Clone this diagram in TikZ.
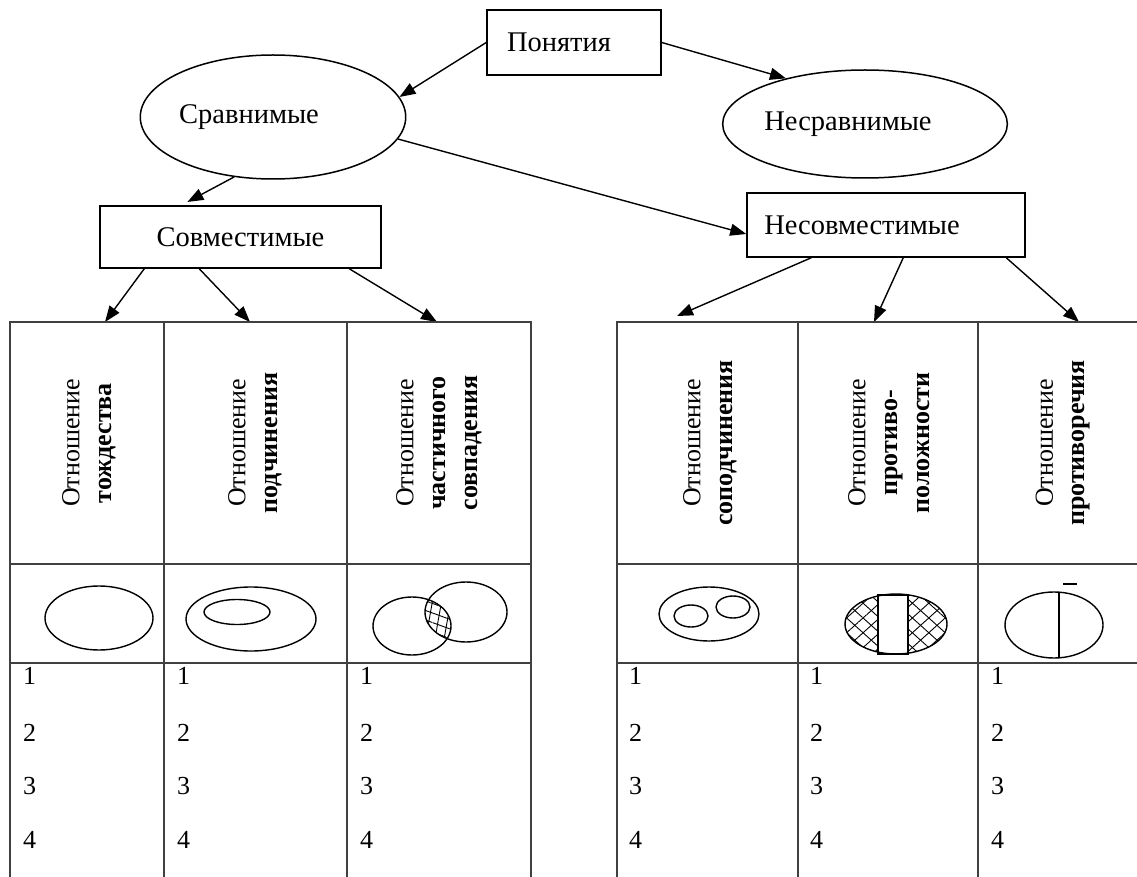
\documentclass[tikz,border=0pt]{standalone}
\usepackage{fontspec}
\setmainfont{Liberation Serif}
\usetikzlibrary{shapes.geometric,arrows.meta,calc,patterns.meta}
\begin{document}
\begin{tikzpicture}[x=1pt,y=-1pt,
  lbl/.style={font=\fontsize{26}{32}\selectfont},
  big/.style={font=\fontsize{28.5}{34}\selectfont},
  box/.style={draw, line width=1.5pt, rectangle, inner sep=0pt, big},
  oval/.style={draw, line width=1.5pt, ellipse, inner sep=0pt, big},
  arr/.style={line width=1.4pt, -{Triangle[length=16pt,width=12pt]}},
  tbl/.style={line width=1.8pt, black!75},
  vtext/.style={lbl, rotate=90, align=center, inner sep=0pt},
  num/.style={lbl, anchor=west, inner sep=0pt},
  fig/.style={line width=1.4pt},
  hatchA/.style={pattern={Lines[angle=42,distance=11pt,line width=0.9pt]}},
  hatchB/.style={pattern={Lines[angle=-42,distance=11pt,line width=0.9pt]}},
  gridA/.style={pattern={Lines[angle=-20,distance=9pt,line width=0.9pt]}},
  gridB/.style={pattern={Lines[angle=80,distance=9pt,line width=0.9pt]}},
]
\useasboundingbox (0,0) rectangle (1137,877);
\fill[white] (0,0) rectangle (1137,877);
\clip (0,0) rectangle (1137,877);

% top nodes
\node[box, minimum width=174, minimum height=65] (pon) at (574,42.5) {Понятия\hspace*{30pt}};
\node[oval, minimum width=258, minimum height=124] (sr) at (273,117) {Сравнимые\hspace*{48pt}};
\node[oval, minimum width=280, minimum height=108] (nesr) at (865,124) {Несравнимые\hspace*{34pt}};
\node[box, minimum width=281, minimum height=62] (sov) at (240.5,237) {Совместимые};
\node[box, minimum width=278, minimum height=64] (nesov) at (886,225) {Несовместимые\hspace*{48pt}};

% table targets
\coordinate (t1) at (105,322);
\coordinate (t2) at (250,322);
\coordinate (t3) at (437,322);
\coordinate (t4) at (677,316);
\coordinate (t5) at (874,322);
\coordinate (t6) at (1079,322);

% arrows
\draw[arr] (pon.west) -- (sr.9);
\draw[arr] (pon.east) -- (nesr.150);
\draw[arr, shorten >=7pt] (sr.-123) -- ($(sov.north west)+(82,0)$);
\draw[arr] (sr.-10) -- ($(nesov.west)+(0,9)$);
\draw[arr] ($(sov.south west)+(45,0)$) -- (t1);
\draw[arr] ($(sov.south west)+(100,0)$) -- (t2);
\draw[arr] ($(sov.south west)+(250,0)$) -- (t3);
\draw[arr] ($(nesov.south west)+(65,0)$) -- (t4);
\draw[arr] ($(nesov.south west)+(157,0)$) -- (t5);
\draw[arr] ($(nesov.south west)+(260,0)$) -- (t6);

% left table
\draw[tbl] (10,880) -- (10,322) -- (531,322) -- (531,880);
\draw[tbl] (164,322) -- (164,880) (347,322) -- (347,880);
\draw[tbl] (10,564) -- (531,564) (10,663) -- (531,663);
% right table
\draw[tbl] (617,880) -- (617,322) -- (1150,322);
\draw[tbl] (798,322) -- (798,880) (978,322) -- (978,880);
\draw[tbl] (617,564) -- (1150,564) (617,663) -- (1150,663);

% header texts
\node[vtext] (h1) at (89,443) {Отношение\\\textbf{тождества}};
\node[vtext] (h2) at (255,443) {Отношение\\\textbf{подчинения}};
\node[vtext] (h3) at (439,443) {Отношение\\\textbf{частичного}\\\textbf{совпадения}};
\node[vtext] (h4) at (710,443) {Отношение\\\textbf{соподчинения}};
\node[vtext] (h5) at (889,443) {Отношение\\\textbf{противо-}\\\textbf{положности}};
\node[vtext] (h6) at (1063,443) {Отношение\\\textbf{противоречия}};

% diagrams
% 1 identity
\draw[fig] (99,618) ellipse [x radius=54pt, y radius=32pt];
% 2 subordination
\draw[fig] (251,619) ellipse [x radius=65pt, y radius=32pt];
\draw[fig] (237,612) ellipse [x radius=33pt, y radius=12.5pt];
% 3 partial overlap
\begin{scope}
  \clip (412,626) ellipse [x radius=39pt, y radius=29pt];
  \fill[gridA] (466,612) ellipse [x radius=41pt, y radius=30pt];
  \fill[gridB] (466,612) ellipse [x radius=41pt, y radius=30pt];
\end{scope}
\draw[fig] (412,626) ellipse [x radius=39pt, y radius=29pt];
\draw[fig] (466,612) ellipse [x radius=41pt, y radius=30pt];
% 4 co-subordination
\draw[fig] (709,614) ellipse [x radius=50pt, y radius=27pt];
\draw[fig] (691,616) ellipse [x radius=17pt, y radius=11pt];
\draw[fig] (733,607) ellipse [x radius=17pt, y radius=11pt];
% 5 contrariety
\fill[hatchA] (896,624) ellipse [x radius=51pt, y radius=30pt];
\fill[hatchB] (896,624) ellipse [x radius=51pt, y radius=30pt];
\draw[fig, fill=white] (878,595) rectangle (908,654);
\draw[fig] (896,624) ellipse [x radius=51pt, y radius=30pt];
% 6 contradiction
\draw[fig] (1054,625) ellipse [x radius=49pt, y radius=33pt];
\draw[fig] (1059,592) -- (1059,658);
\draw[fig] (1063,584) -- (1077,584);

% numbers
\foreach \cx [count=\c] in {23,177,360,629,810,991} {
  \foreach \ny [count=\r] in {676,733,786,840} {
    \node[num] (n\c-\r) at (\cx,\ny) {\r};
  }
}
\end{tikzpicture}
\end{document}
